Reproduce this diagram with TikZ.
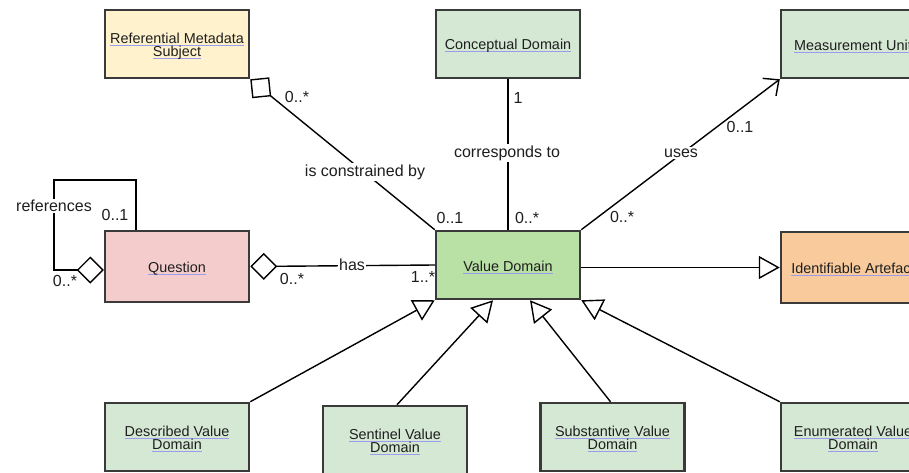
\documentclass[tikz,border=0pt]{standalone}
\usepackage{fontspec}
\setmainfont{Liberation Sans}
\usetikzlibrary{arrows.meta}
\definecolor{ulblue}{HTML}{9C9CEE}
\definecolor{bordergray}{HTML}{3A3A3A}
\definecolor{textdark}{HTML}{1E1E1E}
\definecolor{cyellow}{HTML}{FFF2CC}
\definecolor{cgreen}{HTML}{D5E8D4}
\definecolor{cpink}{HTML}{F4CCCC}
\definecolor{cvd}{HTML}{B9E0A5}
\definecolor{corange}{HTML}{F9CB9C}
\newsavebox\myulbox
\newcommand\myul[1]{\sbox\myulbox{#1}\rlap{\textcolor{ulblue}{\rule[-2.4pt]{\wd\myulbox}{0.9pt}}}\usebox\myulbox}
\newcommand\boxstrut{\rule{0pt}{14.5pt}}
\newcommand\boxfont{\fontsize{14.4}{13.5}\selectfont}
\newcommand\labfont{\fontsize{16}{18}\selectfont}
\tikzset{
  cls/.style={draw=bordergray, line width=2.5pt, minimum width=144pt, minimum height=68pt,
    inner sep=0pt, align=center, font=\boxfont, text=textdark},
  lab/.style={font=\labfont, text=textdark, inner sep=1pt},
  wlab/.style={lab, fill=white, inner sep=1.5pt},
  conn/.style={line width=1.4pt, draw=black},
  aggr/.style={{Diamond[open,length=27pt,width=27pt,line width=1.4pt]}-},
  gen/.style={-{Triangle[open,length=21pt,width=23pt,line width=1.4pt]}},
  assoc/.style={-{Straight Barb[length=12pt,width=22pt,line width=1.4pt]}}
}
\begin{document}
\begin{tikzpicture}[x=1pt,y=-1pt]
\useasboundingbox (0,0) rectangle (909,473);
\clip (0,0) rectangle (909,473);

% classes
\node[cls, fill=cyellow] (rms) at (177,44) {\boxstrut\myul{Referential Metadata}\\\myul{Subject}};
\node[cls, fill=cgreen] (cd) at (508,44) {\boxstrut\myul{Conceptual Domain}};
\node[cls, fill=cgreen] (mu) at (853,44) {\boxstrut\myul{Measurement Unit}};
\node[cls, fill=cpink, minimum height=71pt] (q) at (177,266.5) {\boxstrut\myul{Question}};
\node[cls, fill=cvd] (vd) at (508,265) {\boxstrut\myul{Value Domain}};
\node[cls, fill=corange, minimum height=71pt] (ia) at (853,267.5) {\boxstrut\myul{Identifiable Artefact}};
\node[cls, fill=cgreen] (dvd) at (177,437) {\boxstrut\myul{Described Value}\\\myul{Domain}};
\node[cls, fill=cgreen] (svd) at (395,440) {\boxstrut\myul{Sentinel Value}\\\myul{Domain}};
\node[cls, fill=cgreen] (subvd) at (612.5,437) {\boxstrut\myul{Substantive Value}\\\myul{Domain}};
\node[cls, fill=cgreen] (evd) at (853,437) {\boxstrut\myul{Enumerated Value}\\\myul{Domain}};

% associations
\draw[conn, aggr] (rms.south east) -- (vd.north west);
\draw[conn] (cd.south) -- (vd.north);
\draw[conn, assoc] (vd.north east) -- (mu.south west);
\draw[conn, aggr] (q.east) -- (vd.west);
\coordinate (loopA) at (54,180);
\draw[conn, aggr] ([yshift=-3.5pt]q.west) -| (loopA) -| ([xshift=-41pt]q.north);

% generalizations
\draw[conn, gen] (vd.east |- ia.west) -- (ia.west);
\draw[conn, gen] (dvd.north east) -- (vd.south west);
\draw[conn, gen] ([xshift=2pt]svd.north) -- ([xshift=-15pt]vd.south);
\draw[conn, gen] ([xshift=-2pt]subvd.north) -- ([xshift=22pt]vd.south);
\draw[conn, gen] (evd.north west) -- (vd.south east);

% labels
\node[wlab] (l1) at (365,172) {is constrained by};
\node[lab] (m1) at (297,97) {0..*};
\node[lab] (m2) at (450,218) {0..1};
\node[wlab] (l2) at (507,153) {corresponds to};
\node[lab] (m3) at (518,98) {1};
\node[lab] (m4) at (527,218) {0..*};
\node[wlab] (l3) at (681,153) {uses};
\node[lab] (m5) at (740,127) {0..1};
\node[lab] (m6) at (622,217) {0..*};
\node[wlab] (l4) at (352,265) {has};
\node[lab] (m7) at (292,279) {0..*};
\node[lab] (m8) at (423,277) {1..*};
\node[wlab] (l5) at (54,206) {references};
\node[lab] (m9) at (115,215) {0..1};
\node[lab] (m10) at (65,281) {0..*};
\end{tikzpicture}
\end{document}
